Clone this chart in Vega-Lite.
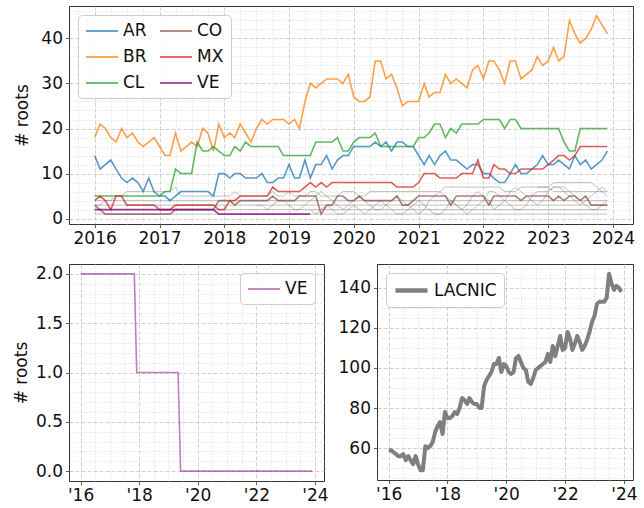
{
"$schema": "https://vega.github.io/schema/vega-lite/v6.json",
"padding": {"left": 11, "top": 5, "right": 4, "bottom": 4},
"config": {
  "font": "DejaVu Sans",
  "view": {"stroke": "#333", "strokeWidth": 1},
  "axis": {"labelFont": "DejaVu Sans", "labelFontSize": 17, "labelColor": "#111", "titleFont": "DejaVu Sans", "titleFontSize": 17, "titleFontWeight": "normal", "titleColor": "#111", "domain": false, "tickColor": "#333", "tickSize": 3.5, "tickWidth": 0.8, "labelPadding": 3, "titlePadding": 5, "gridColor": "#c4c4c4", "gridDash": [4, 2], "gridWidth": 0.8, "labelFlush": false, "labelOverlap": false},
  "legend": {"labelFont": "DejaVu Sans", "labelFontSize": 17, "labelColor": "#111", "symbolType": "M-1,0H3", "symbolSize": 256, "fillColor": "rgba(255,255,255,0.85)", "strokeColor": "#cccccc", "cornerRadius": 4, "padding": 7, "labelOffset": 20, "offset": 9, "rowPadding": 9, "columnPadding": 9}
},
"data": {"values": [
{"d":"2016-01-01","AR":14,"BR":18,"CL":5,"CO":3,"MX":4,"VE":2,"LACNIC":59,"g1":1,"g2":2,"g3":3,"g4":4,"g5":3},
{"d":"2016-02-01","AR":11,"BR":21,"CL":5,"CO":2,"MX":5,"VE":2,"LACNIC":59,"g1":1,"g2":2,"g3":3,"g4":4,"g5":3},
{"d":"2016-03-01","AR":12,"BR":20,"CL":5,"CO":1,"MX":4,"VE":2,"LACNIC":58,"g1":1,"g2":2,"g3":3,"g4":4,"g5":4},
{"d":"2016-04-01","AR":13,"BR":18,"CL":5,"CO":1,"MX":2,"VE":2,"LACNIC":57,"g1":1,"g2":2,"g3":3,"g4":4,"g5":4},
{"d":"2016-05-01","AR":11,"BR":17,"CL":5,"CO":1,"MX":5,"VE":2,"LACNIC":56,"g1":1,"g2":2,"g3":3,"g4":4,"g5":5},
{"d":"2016-06-01","AR":9,"BR":20,"CL":5,"CO":1,"MX":5,"VE":2,"LACNIC":56,"g1":1,"g2":2,"g3":3,"g4":4,"g5":5},
{"d":"2016-07-01","AR":8,"BR":18,"CL":5,"CO":1,"MX":3,"VE":2,"LACNIC":57,"g1":1,"g2":2,"g3":3,"g4":4,"g5":6},
{"d":"2016-08-01","AR":9,"BR":19,"CL":5,"CO":1,"MX":3,"VE":2,"LACNIC":54,"g1":1,"g2":2,"g3":3,"g4":4,"g5":6},
{"d":"2016-09-01","AR":8,"BR":17,"CL":5,"CO":1,"MX":3,"VE":2,"LACNIC":56,"g1":1,"g2":2,"g3":3,"g4":4,"g5":6},
{"d":"2016-10-01","AR":6,"BR":16,"CL":5,"CO":1,"MX":3,"VE":2,"LACNIC":54,"g1":1,"g2":2,"g3":3,"g4":4,"g5":6},
{"d":"2016-11-01","AR":9,"BR":17,"CL":5,"CO":1,"MX":3,"VE":2,"LACNIC":52,"g1":1,"g2":2,"g3":3,"g4":4,"g5":6},
{"d":"2016-12-01","AR":6,"BR":18,"CL":5,"CO":1,"MX":3,"VE":2,"LACNIC":56,"g1":1,"g2":2,"g3":3,"g4":4,"g5":6},
{"d":"2017-01-01","AR":5,"BR":16,"CL":5,"CO":1,"MX":2,"VE":2,"LACNIC":52,"g1":1,"g2":2,"g3":3,"g4":4,"g5":6},
{"d":"2017-02-01","AR":5,"BR":14,"CL":6,"CO":1,"MX":2,"VE":2,"LACNIC":49,"g1":1,"g2":2,"g3":3,"g4":4,"g5":6},
{"d":"2017-03-01","AR":4,"BR":14,"CL":6,"CO":1,"MX":2,"VE":2,"LACNIC":49,"g1":1,"g2":2,"g3":3,"g4":4,"g5":6},
{"d":"2017-04-01","AR":5,"BR":19,"CL":11,"CO":2,"MX":3,"VE":2,"LACNIC":61,"g1":1,"g2":2,"g3":3,"g4":4,"g5":7},
{"d":"2017-05-01","AR":6,"BR":15,"CL":10,"CO":2,"MX":3,"VE":2,"LACNIC":60,"g1":1,"g2":2,"g3":3,"g4":4,"g5":5},
{"d":"2017-06-01","AR":6,"BR":16,"CL":10,"CO":2,"MX":3,"VE":2,"LACNIC":61,"g1":1,"g2":2,"g3":3,"g4":4,"g5":5},
{"d":"2017-07-01","AR":6,"BR":17,"CL":10,"CO":2,"MX":3,"VE":2,"LACNIC":63,"g1":1,"g2":2,"g3":3,"g4":4,"g5":5},
{"d":"2017-08-01","AR":6,"BR":16,"CL":17,"CO":2,"MX":3,"VE":2,"LACNIC":68,"g1":1,"g2":2,"g3":3,"g4":4,"g5":5},
{"d":"2017-09-01","AR":6,"BR":20,"CL":15,"CO":2,"MX":3,"VE":2,"LACNIC":71,"g1":1,"g2":2,"g3":3,"g4":4,"g5":5},
{"d":"2017-10-01","AR":6,"BR":19,"CL":15,"CO":2,"MX":3,"VE":2,"LACNIC":73,"g1":1,"g2":2,"g3":3,"g4":4,"g5":5},
{"d":"2017-11-01","AR":5,"BR":15,"CL":16,"CO":2,"MX":3,"VE":2,"LACNIC":67,"g1":1,"g2":2,"g3":3,"g4":4,"g5":5},
{"d":"2017-12-01","AR":10,"BR":21,"CL":15,"CO":4,"MX":2,"VE":1,"LACNIC":78,"g1":1,"g2":2,"g3":3,"g4":4,"g5":5},
{"d":"2018-01-01","AR":10,"BR":18,"CL":14,"CO":4,"MX":2,"VE":1,"LACNIC":75,"g1":1,"g2":2,"g3":3,"g4":4,"g5":5},
{"d":"2018-02-01","AR":9,"BR":19,"CL":14,"CO":4,"MX":4,"VE":1,"LACNIC":75,"g1":1,"g2":2,"g3":3,"g4":4,"g5":5},
{"d":"2018-03-01","AR":10,"BR":18,"CL":16,"CO":3,"MX":4,"VE":1,"LACNIC":76,"g1":1,"g2":2,"g3":3,"g4":4,"g5":6},
{"d":"2018-04-01","AR":10,"BR":21,"CL":15,"CO":4,"MX":5,"VE":1,"LACNIC":78,"g1":1,"g2":2,"g3":3,"g4":4,"g5":5},
{"d":"2018-05-01","AR":9,"BR":19,"CL":17,"CO":4,"MX":5,"VE":1,"LACNIC":77,"g1":1,"g2":2,"g3":3,"g4":4,"g5":5},
{"d":"2018-06-01","AR":9,"BR":17,"CL":16,"CO":4,"MX":5,"VE":1,"LACNIC":80,"g1":1,"g2":2,"g3":3,"g4":4,"g5":5},
{"d":"2018-07-01","AR":9,"BR":20,"CL":16,"CO":4,"MX":5,"VE":1,"LACNIC":85,"g1":1,"g2":2,"g3":3,"g4":4,"g5":5,"g6":3},
{"d":"2018-08-01","AR":10,"BR":22,"CL":16,"CO":4,"MX":5,"VE":1,"LACNIC":84,"g1":1,"g2":2,"g3":3,"g4":4,"g5":5,"g6":3},
{"d":"2018-09-01","AR":8,"BR":21,"CL":16,"CO":4,"MX":5,"VE":1,"LACNIC":82,"g1":1,"g2":2,"g3":3,"g4":4,"g5":5,"g6":2},
{"d":"2018-10-01","AR":8,"BR":22,"CL":16,"CO":5,"MX":7,"VE":1,"LACNIC":85,"g1":1,"g2":2,"g3":3,"g4":4,"g5":6,"g6":3},
{"d":"2018-11-01","AR":9,"BR":22,"CL":16,"CO":4,"MX":6,"VE":1,"LACNIC":83,"g1":1,"g2":2,"g3":3,"g4":4,"g5":5,"g6":4},
{"d":"2018-12-01","AR":9,"BR":22,"CL":14,"CO":4,"MX":6,"VE":1,"LACNIC":82,"g1":1,"g2":2,"g3":3,"g4":4,"g5":5,"g6":4},
{"d":"2019-01-01","AR":12,"BR":21,"CL":14,"CO":4,"MX":6,"VE":1,"LACNIC":82,"g1":1,"g2":2,"g3":3,"g4":4,"g5":6,"g6":3},
{"d":"2019-02-01","AR":9,"BR":22,"CL":14,"CO":4,"MX":6,"VE":1,"LACNIC":80,"g1":1,"g2":2,"g3":3,"g4":4,"g5":5,"g6":2},
{"d":"2019-03-01","AR":9,"BR":20,"CL":14,"CO":5,"MX":6,"VE":1,"LACNIC":80,"g1":1,"g2":2,"g3":3,"g4":4,"g5":5,"g6":2},
{"d":"2019-04-01","AR":13,"BR":26,"CL":14,"CO":5,"MX":7,"VE":1,"LACNIC":91,"g1":1,"g2":2,"g3":3,"g4":4,"g5":5,"g6":3},
{"d":"2019-05-01","AR":9,"BR":30,"CL":14,"CO":5,"MX":8,"VE":1,"LACNIC":94,"g1":1,"g2":2,"g3":3,"g4":4,"g5":6,"g6":4,"g7":2},
{"d":"2019-06-01","AR":12,"BR":29,"CL":17,"CO":5,"MX":7,"VE":0,"LACNIC":96,"g1":1,"g2":2,"g3":3,"g4":4,"g5":6,"g6":5,"g7":1},
{"d":"2019-07-01","AR":12,"BR":30,"CL":17,"CO":1,"MX":8,"VE":0,"LACNIC":98,"g1":1,"g2":2,"g3":3,"g4":4,"g5":5,"g6":6,"g7":2},
{"d":"2019-08-01","AR":14,"BR":31,"CL":17,"CO":3,"MX":7,"VE":0,"LACNIC":102,"g1":1,"g2":2,"g3":3,"g4":4,"g5":5,"g6":5,"g7":3},
{"d":"2019-09-01","AR":11,"BR":31,"CL":17,"CO":3,"MX":8,"VE":0,"LACNIC":102,"g1":1,"g2":2,"g3":3,"g4":4,"g5":5,"g6":4,"g7":2},
{"d":"2019-10-01","AR":13,"BR":31,"CL":18,"CO":5,"MX":8,"VE":0,"LACNIC":105,"g1":1,"g2":2,"g3":3,"g4":4,"g5":5,"g6":3,"g7":1},
{"d":"2019-11-01","AR":14,"BR":30,"CL":15,"CO":5,"MX":8,"VE":0,"LACNIC":98,"g1":1,"g2":2,"g3":3,"g4":4,"g5":6,"g6":2,"g7":1},
{"d":"2019-12-01","AR":14,"BR":32,"CL":15,"CO":4,"MX":8,"VE":0,"LACNIC":102,"g1":1,"g2":2,"g3":3,"g4":4,"g5":6,"g6":3,"g7":2},
{"d":"2020-01-01","AR":16,"BR":27,"CL":17,"CO":4,"MX":8,"VE":0,"LACNIC":101,"g1":1,"g2":2,"g3":3,"g4":4,"g5":6,"g6":4,"g7":3},
{"d":"2020-02-01","AR":16,"BR":26,"CL":18,"CO":5,"MX":8,"VE":0,"LACNIC":98,"g1":1,"g2":2,"g3":3,"g4":4,"g5":5,"g6":5,"g7":2},
{"d":"2020-03-01","AR":16,"BR":26,"CL":18,"CO":4,"MX":8,"VE":0,"LACNIC":97,"g1":1,"g2":2,"g3":3,"g4":4,"g5":5,"g6":4,"g7":1},
{"d":"2020-04-01","AR":16,"BR":27,"CL":18,"CO":4,"MX":8,"VE":0,"LACNIC":98,"g1":1,"g2":2,"g3":3,"g4":4,"g5":6,"g6":3,"g7":2},
{"d":"2020-05-01","AR":17,"BR":35,"CL":19,"CO":4,"MX":8,"VE":0,"LACNIC":105,"g1":1,"g2":2,"g3":3,"g4":4,"g5":6,"g6":2,"g7":3},
{"d":"2020-06-01","AR":16,"BR":35,"CL":16,"CO":4,"MX":8,"VE":0,"LACNIC":106,"g1":1,"g2":2,"g3":3,"g4":4,"g5":6,"g6":2,"g7":4},
{"d":"2020-07-01","AR":17,"BR":31,"CL":16,"CO":4,"MX":8,"VE":0,"LACNIC":103,"g1":1,"g2":2,"g3":3,"g4":4,"g5":6,"g6":3,"g7":3},
{"d":"2020-08-01","AR":15,"BR":32,"CL":16,"CO":4,"MX":8,"VE":0,"LACNIC":100,"g1":1,"g2":2,"g3":3,"g4":4,"g5":6,"g6":4,"g7":2},
{"d":"2020-09-01","AR":17,"BR":29,"CL":16,"CO":5,"MX":7,"VE":0,"LACNIC":99,"g1":1,"g2":2,"g3":3,"g4":4,"g5":6,"g6":5,"g7":1},
{"d":"2020-10-01","AR":17,"BR":25,"CL":16,"CO":3,"MX":7,"VE":0,"LACNIC":93,"g1":1,"g2":2,"g3":3,"g4":4,"g5":6,"g6":4,"g7":1},
{"d":"2020-11-01","AR":16,"BR":26,"CL":16,"CO":3,"MX":7,"VE":0,"LACNIC":92,"g1":1,"g2":2,"g3":3,"g4":4,"g5":6,"g6":3,"g7":2},
{"d":"2020-12-01","AR":16,"BR":26,"CL":16,"CO":4,"MX":7,"VE":0,"LACNIC":95,"g1":1,"g2":2,"g3":3,"g4":4,"g5":6,"g6":2,"g7":3},
{"d":"2021-01-01","AR":14,"BR":26,"CL":18,"CO":5,"MX":8,"VE":0,"LACNIC":99,"g1":1,"g2":2,"g3":3,"g4":4,"g5":6,"g6":1,"g7":4},
{"d":"2021-02-01","AR":12,"BR":30,"CL":18,"CO":5,"MX":10,"VE":0,"LACNIC":100,"g1":1,"g2":2,"g3":3,"g4":4,"g5":6,"g6":2,"g7":3},
{"d":"2021-03-01","AR":14,"BR":27,"CL":19,"CO":5,"MX":10,"VE":0,"LACNIC":101,"g1":1,"g2":2,"g3":3,"g4":4,"g5":6,"g6":4,"g7":2},
{"d":"2021-04-01","AR":12,"BR":28,"CL":21,"CO":5,"MX":10,"VE":0,"LACNIC":102,"g1":1,"g2":2,"g3":3,"g4":4,"g5":6,"g6":5,"g7":1},
{"d":"2021-05-01","AR":14,"BR":28,"CL":21,"CO":5,"MX":9,"VE":0,"LACNIC":103,"g1":1,"g2":2,"g3":3,"g4":4,"g5":6,"g6":6,"g7":1},
{"d":"2021-06-01","AR":15,"BR":32,"CL":18,"CO":5,"MX":9,"VE":0,"LACNIC":107,"g1":1,"g2":2,"g3":3,"g4":4,"g5":7,"g6":5,"g7":2},
{"d":"2021-07-01","AR":13,"BR":30,"CL":20,"CO":3,"MX":9,"VE":0,"LACNIC":103,"g1":1,"g2":2,"g3":3,"g4":4,"g5":7,"g6":4,"g7":4},
{"d":"2021-08-01","AR":13,"BR":31,"CL":19,"CO":5,"MX":9,"VE":0,"LACNIC":111,"g1":1,"g2":2,"g3":3,"g4":4,"g5":7,"g6":3,"g7":3},
{"d":"2021-09-01","AR":12,"BR":30,"CL":21,"CO":5,"MX":10,"VE":0,"LACNIC":106,"g1":1,"g2":2,"g3":3,"g4":4,"g5":7,"g6":2,"g7":2},
{"d":"2021-10-01","AR":11,"BR":29,"CL":21,"CO":5,"MX":10,"VE":0,"LACNIC":111,"g1":1,"g2":2,"g3":3,"g4":4,"g5":7,"g6":3,"g7":1},
{"d":"2021-11-01","AR":12,"BR":33,"CL":21,"CO":5,"MX":10,"VE":0,"LACNIC":116,"g1":1,"g2":2,"g3":3,"g4":4,"g5":7,"g6":5,"g7":2},
{"d":"2021-12-01","AR":12,"BR":34,"CL":21,"CO":5,"MX":13,"VE":0,"LACNIC":109,"g1":1,"g2":2,"g3":3,"g4":4,"g5":7,"g6":6,"g7":3},
{"d":"2022-01-01","AR":10,"BR":31,"CL":22,"CO":5,"MX":9,"VE":0,"LACNIC":110,"g1":1,"g2":2,"g3":3,"g4":4,"g5":7,"g6":5,"g7":4},
{"d":"2022-02-01","AR":10,"BR":35,"CL":22,"CO":3,"MX":9,"VE":0,"LACNIC":118,"g1":1,"g2":2,"g3":3,"g4":4,"g5":7,"g6":4,"g7":6},
{"d":"2022-03-01","AR":9,"BR":35,"CL":22,"CO":5,"MX":12,"VE":0,"LACNIC":115,"g1":1,"g2":2,"g3":3,"g4":4,"g5":7,"g6":2,"g7":6},
{"d":"2022-04-01","AR":8,"BR":33,"CL":22,"CO":5,"MX":11,"VE":0,"LACNIC":109,"g1":1,"g2":2,"g3":3,"g4":4,"g5":7,"g6":3,"g7":5},
{"d":"2022-05-01","AR":8,"BR":30,"CL":20,"CO":5,"MX":11,"VE":0,"LACNIC":112,"g1":1,"g2":2,"g3":3,"g4":4,"g5":6,"g6":4,"g7":4},
{"d":"2022-06-01","AR":10,"BR":35,"CL":22,"CO":5,"MX":10,"VE":0,"LACNIC":116,"g1":1,"g2":2,"g3":3,"g4":4,"g5":6,"g6":6,"g7":3},
{"d":"2022-07-01","AR":12,"BR":35,"CL":22,"CO":5,"MX":10,"VE":0,"LACNIC":113,"g1":1,"g2":2,"g3":3,"g4":4,"g5":6,"g6":7,"g7":2},
{"d":"2022-08-01","AR":10,"BR":31,"CL":20,"CO":4,"MX":11,"VE":0,"LACNIC":109,"g1":1,"g2":2,"g3":3,"g4":4,"g5":7,"g6":6,"g7":2},
{"d":"2022-09-01","AR":10,"BR":32,"CL":20,"CO":5,"MX":11,"VE":0,"LACNIC":111,"g1":1,"g2":2,"g3":3,"g4":4,"g5":7,"g6":5,"g7":3},
{"d":"2022-10-01","AR":11,"BR":33,"CL":20,"CO":5,"MX":11,"VE":0,"LACNIC":114,"g1":1,"g2":2,"g3":3,"g4":4,"g5":7,"g6":4,"g7":5},
{"d":"2022-11-01","AR":12,"BR":36,"CL":20,"CO":5,"MX":11,"VE":0,"LACNIC":118,"g1":1,"g2":2,"g3":3,"g4":4,"g5":7,"g6":3,"g7":6,"g8":7},
{"d":"2022-12-01","AR":14,"BR":34,"CL":20,"CO":5,"MX":11,"VE":0,"LACNIC":123,"g1":1,"g2":2,"g3":3,"g4":4,"g5":7,"g6":4,"g7":6,"g8":7},
{"d":"2023-01-01","AR":12,"BR":35,"CL":20,"CO":5,"MX":12,"VE":0,"LACNIC":126,"g1":1,"g2":2,"g3":3,"g4":4,"g5":7,"g6":6,"g7":6,"g8":7},
{"d":"2023-02-01","AR":12,"BR":38,"CL":20,"CO":4,"MX":13,"VE":0,"LACNIC":132,"g1":1,"g2":2,"g3":3,"g4":4,"g5":8,"g6":7,"g7":7,"g8":6},
{"d":"2023-03-01","AR":13,"BR":35,"CL":20,"CO":5,"MX":14,"VE":0,"LACNIC":133,"g1":1,"g2":2,"g3":3,"g4":4,"g5":8,"g6":7,"g7":7,"g8":6},
{"d":"2023-04-01","AR":12,"BR":36,"CL":17,"CO":4,"MX":14,"VE":0,"LACNIC":133,"g1":1,"g2":2,"g3":3,"g4":4,"g5":8,"g6":6,"g7":7,"g8":6},
{"d":"2023-05-01","AR":11,"BR":44,"CL":15,"CO":5,"MX":13,"VE":0,"LACNIC":133,"g1":1,"g2":2,"g3":3,"g4":4,"g5":8,"g6":5,"g7":6,"g8":6},
{"d":"2023-06-01","AR":14,"BR":41,"CL":15,"CO":5,"MX":14,"VE":0,"LACNIC":135,"g1":1,"g2":2,"g3":3,"g4":4,"g5":8,"g6":4,"g7":5,"g8":6},
{"d":"2023-07-01","AR":12,"BR":39,"CL":20,"CO":4,"MX":16,"VE":0,"LACNIC":147,"g1":1,"g2":2,"g3":3,"g4":4,"g5":8,"g6":3,"g7":4,"g8":6},
{"d":"2023-08-01","AR":13,"BR":40,"CL":20,"CO":5,"MX":16,"VE":0,"LACNIC":142,"g1":1,"g2":2,"g3":3,"g4":4,"g5":8,"g6":4,"g7":3,"g8":6},
{"d":"2023-09-01","AR":11,"BR":42,"CL":20,"CO":3,"MX":16,"VE":0,"LACNIC":139,"g1":1,"g2":2,"g3":3,"g4":4,"g5":8,"g6":5,"g7":2,"g8":6},
{"d":"2023-10-01","AR":12,"BR":45,"CL":20,"CO":3,"MX":16,"VE":0,"LACNIC":141,"g1":1,"g2":2,"g3":3,"g4":4,"g5":7,"g6":6,"g7":2,"g8":6},
{"d":"2023-11-01","AR":13,"BR":43,"CL":20,"CO":3,"MX":16,"VE":0,"LACNIC":140,"g1":1,"g2":2,"g3":3,"g4":4,"g5":6,"g6":7,"g7":3,"g8":6},
{"d":"2023-12-01","AR":15,"BR":41,"CL":20,"CO":3,"MX":16,"VE":0,"LACNIC":138,"g1":1,"g2":2,"g3":3,"g4":4,"g5":5,"g6":6,"g7":4,"g8":6}
]},
"spacing": 16,
"resolve": {"scale": {"color": "independent"}, "legend": {"color": "independent"}},
"vconcat": [
{
  "width": 564, "height": 218,
  "transform": [
    {"fold": ["AR","BR","CL","CO","MX","VE","g1","g2","g3","g4","g5","g6","g7","g8"], "as": ["country","value"]},
    {"filter": "isValid(datum.value) && datum.value > 0"}
  ],
  "layer": [
    {
      "transform": [{"filter": "indexof(['g1','g2','g3','g4','g5','g6','g7','g8'], datum.country) >= 0"}],
      "mark": {"type": "line", "color": "#808080", "opacity": 0.5, "strokeWidth": 1},
      "encoding": {
        "x": {"field": "d", "type": "temporal",
          "scale": {"type": "utc", "domain": [{"year":2015,"month":8,"date":9,"hours":12,"utc":true},{"year":2024,"month":4,"date":23,"hours":13,"utc":true}]},
          "axis": {"orient": "top", "title": null, "labels": false, "domain": false, "ticks": false, "grid": true, "gridDash": [1, 2], "gridColor": "#d2d2d2",
            "values": [{"year":2015,"month":10,"utc":true},{"year":2016,"month":4,"utc":true},{"year":2016,"month":7,"utc":true},{"year":2016,"month":10,"utc":true},{"year":2017,"month":4,"utc":true},{"year":2017,"month":7,"utc":true},{"year":2017,"month":10,"utc":true},{"year":2018,"month":4,"utc":true},{"year":2018,"month":7,"utc":true},{"year":2018,"month":10,"utc":true},{"year":2019,"month":4,"utc":true},{"year":2019,"month":7,"utc":true},{"year":2019,"month":10,"utc":true},{"year":2020,"month":4,"utc":true},{"year":2020,"month":7,"utc":true},{"year":2020,"month":10,"utc":true},{"year":2021,"month":4,"utc":true},{"year":2021,"month":7,"utc":true},{"year":2021,"month":10,"utc":true},{"year":2022,"month":4,"utc":true},{"year":2022,"month":7,"utc":true},{"year":2022,"month":10,"utc":true},{"year":2023,"month":4,"utc":true},{"year":2023,"month":7,"utc":true},{"year":2023,"month":10,"utc":true},{"year":2024,"month":4,"utc":true}]}},
        "y": {"field": "value", "type": "quantitative",
          "scale": {"domain": [-1.2, 47.2], "nice": false, "zero": false},
          "axis": {"orient": "right", "title": null, "labels": false, "domain": false, "ticks": false, "grid": true, "gridDash": [1, 2], "gridColor": "#d2d2d2",
            "values": [2,4,6,8,12,14,16,18,22,24,26,28,32,34,36,38,42,44,46]}},
        "detail": {"field": "country", "type": "nominal"}
      }
    },
    {
      "transform": [{"filter": "indexof(['AR','BR','CL','CO','MX','VE'], datum.country) >= 0"}],
      "mark": {"type": "line", "opacity": 0.75, "strokeWidth": 1.6},
      "encoding": {
        "x": {"field": "d", "type": "temporal",
          "scale": {"type": "utc", "domain": [{"year":2015,"month":8,"date":9,"hours":12,"utc":true},{"year":2024,"month":4,"date":23,"hours":13,"utc":true}]},
          "axis": {"orient": "bottom", "title": null, "format": "%Y", "formatType": "utc", "grid": true,
            "values": [{"year":2016,"utc":true},{"year":2017,"utc":true},{"year":2018,"utc":true},{"year":2019,"utc":true},{"year":2020,"utc":true},{"year":2021,"utc":true},{"year":2022,"utc":true},{"year":2023,"utc":true},{"year":2024,"utc":true}]}},
        "y": {"field": "value", "type": "quantitative",
          "scale": {"domain": [-1.2, 47.2], "nice": false, "zero": false},
          "axis": {"orient": "left", "title": "# roots", "titlePadding": 9, "grid": true, "values": [0,10,20,30,40]}},
        "color": {"field": "country", "type": "nominal",
          "scale": {"domain": ["AR","BR","CL","CO","MX","VE"], "range": ["#1f77b4","#ff7f0e","#2ca02c","#8c564b","#d62728","#800080"]},
          "legend": {"title": null, "orient": "top-left", "columns": 2, "symbolStrokeWidth": 1.8, "symbolOpacity": 0.75}}
      }
    }
  ],
  "resolve": {"axis": {"x": "independent", "y": "independent"}}
},
{
  "spacing": 8,
  "resolve": {"scale": {"color": "independent"}, "legend": {"color": "independent"}},
  "hconcat": [
    {
      "width": 255, "height": 217,
      "transform": [{"fold": ["VE"], "as": ["country","value"]}],
      "layer": [
        {
          "mark": {"type": "line", "opacity": 0},
          "encoding": {
            "x": {"field": "d", "type": "temporal",
              "scale": {"type": "utc", "domain": [{"year":2015,"month":8,"date":9,"hours":12,"utc":true},{"year":2024,"month":4,"date":23,"hours":13,"utc":true}]},
              "axis": {"orient": "top", "title": null, "labels": false, "domain": false, "ticks": false, "grid": true, "gridDash": [1, 2], "gridColor": "#d2d2d2",
                "values": [{"year":2016,"month":7,"utc":true},{"year":2017,"month":1,"utc":true},{"year":2017,"month":7,"utc":true},{"year":2018,"month":7,"utc":true},{"year":2019,"month":1,"utc":true},{"year":2019,"month":7,"utc":true},{"year":2020,"month":7,"utc":true},{"year":2021,"month":1,"utc":true},{"year":2021,"month":7,"utc":true},{"year":2022,"month":7,"utc":true},{"year":2023,"month":1,"utc":true},{"year":2023,"month":7,"utc":true}]}},
            "y": {"field": "value", "type": "quantitative",
              "scale": {"domain": [-0.1, 2.1], "nice": false, "zero": false},
              "axis": {"orient": "right", "title": null, "labels": false, "domain": false, "ticks": false, "grid": true, "gridDash": [1, 2], "gridColor": "#d2d2d2",
                "values": [0.1,0.2,0.3,0.4,0.6,0.7,0.8,0.9,1.1,1.2,1.3,1.4,1.6,1.7,1.8,1.9]}}
          }
        },
        {
          "mark": {"type": "line", "opacity": 0.5, "strokeWidth": 1.6},
          "encoding": {
            "x": {"field": "d", "type": "temporal",
              "scale": {"type": "utc", "domain": [{"year":2015,"month":8,"date":9,"hours":12,"utc":true},{"year":2024,"month":4,"date":23,"hours":13,"utc":true}]},
              "axis": {"orient": "bottom", "title": null, "labelExpr": "\"'\" + utcFormat(datum.value, '%y')", "grid": true,
                "values": [{"year":2016,"utc":true},{"year":2018,"utc":true},{"year":2020,"utc":true},{"year":2022,"utc":true},{"year":2024,"utc":true}]}},
            "y": {"field": "value", "type": "quantitative",
              "scale": {"domain": [-0.1, 2.1], "nice": false, "zero": false},
              "axis": {"orient": "left", "title": "# roots", "grid": true, "format": ".1f", "values": [0, 0.5, 1, 1.5, 2]}},
            "color": {"field": "country", "type": "nominal",
              "scale": {"domain": ["VE"], "range": ["#800080"]},
              "legend": {"title": null, "orient": "top-right", "symbolStrokeWidth": 1.8, "symbolOpacity": 0.5}}
          }
        }
      ],
      "resolve": {"axis": {"x": "independent", "y": "independent"}}
    },
    {
      "width": 256, "height": 216,
      "transform": [{"fold": ["LACNIC"], "as": ["country","value"]}],
      "layer": [
        {
          "mark": {"type": "line", "opacity": 0},
          "encoding": {
            "x": {"field": "d", "type": "temporal",
              "scale": {"type": "utc", "domain": [{"year":2015,"month":8,"date":9,"hours":12,"utc":true},{"year":2024,"month":4,"date":23,"hours":13,"utc":true}]},
              "axis": {"orient": "top", "title": null, "labels": false, "domain": false, "ticks": false, "grid": true, "gridDash": [1, 2], "gridColor": "#d2d2d2",
                "values": [{"year":2016,"month":7,"utc":true},{"year":2017,"month":1,"utc":true},{"year":2017,"month":7,"utc":true},{"year":2018,"month":7,"utc":true},{"year":2019,"month":1,"utc":true},{"year":2019,"month":7,"utc":true},{"year":2020,"month":7,"utc":true},{"year":2021,"month":1,"utc":true},{"year":2021,"month":7,"utc":true},{"year":2022,"month":7,"utc":true},{"year":2023,"month":1,"utc":true},{"year":2023,"month":7,"utc":true}]}},
            "y": {"field": "value", "type": "quantitative",
              "scale": {"domain": [44.1, 151.9], "nice": false, "zero": false},
              "axis": {"orient": "right", "title": null, "labels": false, "domain": false, "ticks": false, "grid": true, "gridDash": [1, 2], "gridColor": "#d2d2d2",
                "values": [45,50,55,65,70,75,85,90,95,105,110,115,125,130,135,145,150]}}
          }
        },
        {
          "mark": {"type": "line", "strokeWidth": 4, "strokeJoin": "round"},
          "encoding": {
            "x": {"field": "d", "type": "temporal",
              "scale": {"type": "utc", "domain": [{"year":2015,"month":8,"date":9,"hours":12,"utc":true},{"year":2024,"month":4,"date":23,"hours":13,"utc":true}]},
              "axis": {"orient": "bottom", "title": null, "labelExpr": "\"'\" + utcFormat(datum.value, '%y')", "grid": true,
                "values": [{"year":2016,"utc":true},{"year":2018,"utc":true},{"year":2020,"utc":true},{"year":2022,"utc":true},{"year":2024,"utc":true}]}},
            "y": {"field": "value", "type": "quantitative",
              "scale": {"domain": [44.1, 151.9], "nice": false, "zero": false},
              "axis": {"orient": "left", "title": null, "grid": true, "values": [60, 80, 100, 120, 140]}},
            "color": {"field": "country", "type": "nominal",
              "scale": {"domain": ["LACNIC"], "range": ["#7f7f7f"]},
              "legend": {"title": null, "orient": "top-left", "symbolStrokeWidth": 4.5}}
          }
        }
      ],
      "resolve": {"axis": {"x": "independent", "y": "independent"}}
    }
  ]
}
]
}
